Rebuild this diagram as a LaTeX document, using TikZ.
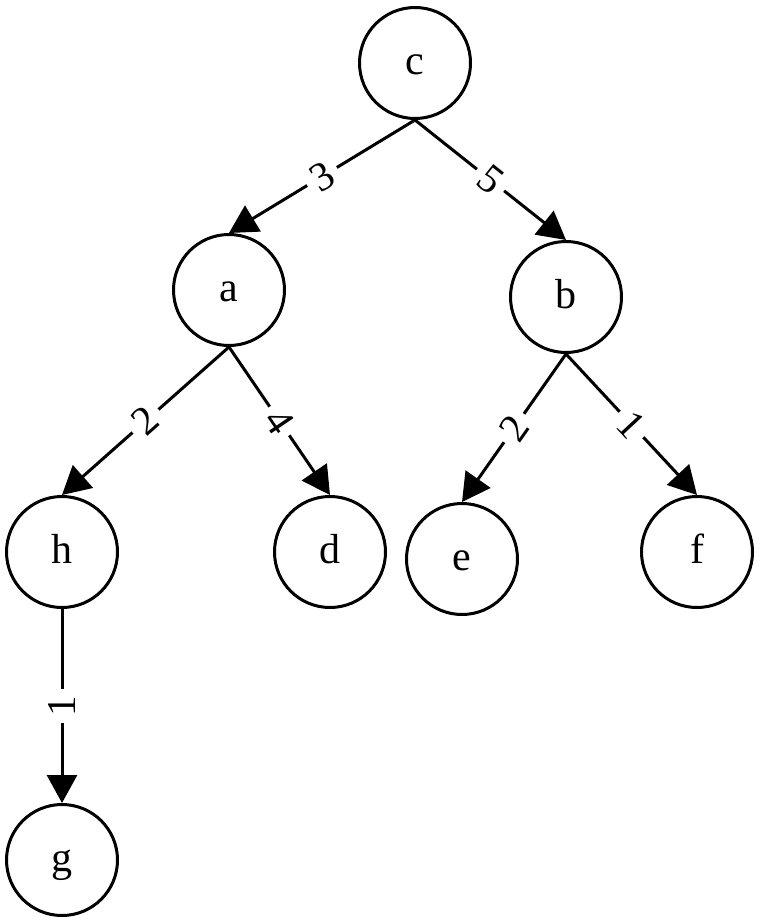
\documentclass[tikz,border=0pt]{standalone}
\usepackage{fontspec}
\setmainfont{Liberation Serif}
\usetikzlibrary{arrows.meta}
\begin{document}
\begin{tikzpicture}[x=1pt,y=-1pt,
  vertex/.style={circle,draw,line width=3pt,minimum size=111pt,inner sep=0pt,
    font=\fontsize{42}{42}\selectfont,text height=23pt,text depth=0pt},
  edge/.style={line width=3pt,-{Triangle[length=28pt,width=30pt]}},
  wlab/.style={fill=white,inner xsep=7pt,inner ysep=2pt,font=\fontsize{41}{41}\selectfont}]
\useasboundingbox (0,0) rectangle (758,920);
\node[vertex] (c) at (415,63) {c};
\node[vertex] (a) at (229,290) {a};
\node[vertex] (b) at (566,297) {b};
\node[vertex] (h) at (62,552) {h};
\node[vertex] (d) at (330,552) {d};
\node[vertex] (e) at (462,559) {e};
\node[vertex] (f) at (697,552) {f};
\node[vertex] (g) at (62,860) {g};
\draw[edge] (c.south) -- node[wlab,sloped] (l1) {3} (a.north);
\draw[edge] (c.south) -- node[wlab,sloped] (l2) {5} (b.north);
\draw[edge] (a.south) -- node[wlab,sloped] (l3) {2} (h.north);
\draw[edge] (a.south) -- node[wlab,sloped] (l4) {4} (d.north);
\draw[edge] (b.south) -- node[wlab,sloped] (l5) {2} (e.north);
\draw[edge] (b.south) -- node[wlab,sloped] (l6) {1} (f.north);
\draw[edge] (h.south) -- node[wlab,rotate=90] (l7) {1} (g.north);
\end{tikzpicture}
\end{document}
